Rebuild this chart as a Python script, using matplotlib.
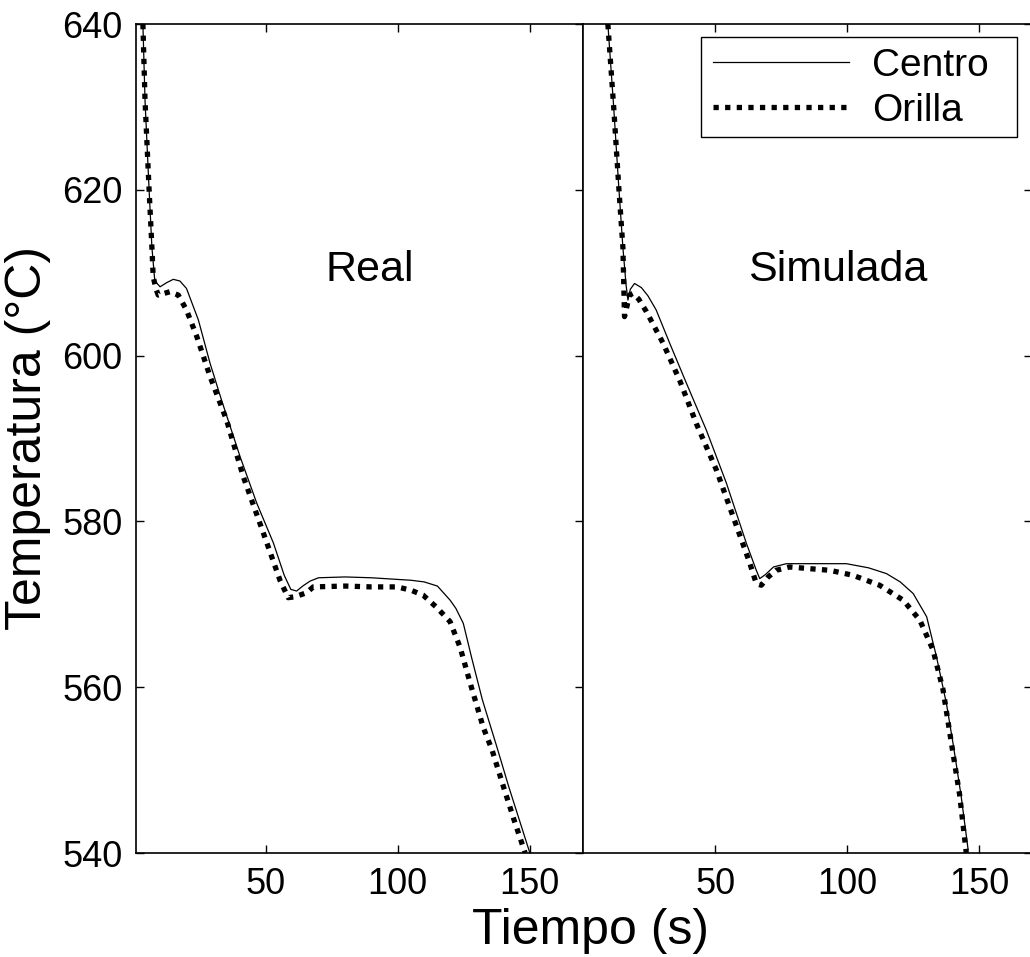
import numpy as np
import matplotlib.pyplot as plt
from matplotlib.patches import Rectangle

plt.rcParams['font.family'] = ['Liberation Sans', 'DejaVu Sans']

# Real (measured) cooling curves
real_centro_t = [3.5, 4.3, 5.8, 6.9, 8.0, 10, 12.5, 15, 17.5, 20, 24.5, 28.9, 33.3, 40.3, 46.6,
                 52.9, 57, 59.5, 61.7, 64, 66.8, 70, 80, 90, 100, 105, 110, 115, 119.8, 122,
                 124.8, 128, 132, 137.5, 142, 146, 150]
real_centro_T = [640, 630.8, 620.3, 613.1, 609, 608.3, 608.8, 609.2, 609.0, 608.1, 604.3, 599.1,
                 594.6, 587.8, 582.2, 577.4, 573.5, 571.8, 571.6, 572.2, 572.8, 573.2, 573.3,
                 573.2, 573.0, 572.9, 572.7, 572.2, 570.5, 569.5, 567.7, 563.5, 558.5, 552.8,
                 548, 544, 540]
real_orilla_t = [3.5, 4.3, 5.8, 6.9, 7.4, 8.5, 9.3, 11.5, 13.7, 16.9, 20, 23.9, 28.9, 35.2, 41.5,
                 49.1, 55.4, 58.5, 61, 65.5, 68, 80, 90, 99.7, 105, 109.6, 114.8, 119.8, 123.6,
                 127.4, 132.3, 135.7, 140, 144, 148.2]
real_orilla_T = [640, 630.8, 620.3, 613.1, 609.5, 608, 607.3, 607.5, 607.7, 607.3, 605.5, 602.3,
                 597.5, 592.2, 585.4, 578.6, 572.9, 570.8, 570.9, 571.4, 572.1, 572.2, 572.1,
                 572.1, 571.7, 571.1, 569.6, 567.9, 564.8, 560.5, 555.2, 552.4, 548, 544, 540]

# Simulated cooling curves
sim_centro_t = [9.3, 11.5, 13.5, 15.0, 16.2, 16.9, 17.8, 19.4, 22, 24.5, 27.6, 32.7, 39, 46.6,
                54.2, 61.7, 65.5, 66.8, 69, 72, 76.9, 90, 99.6, 108, 114.8, 120, 124.9, 130,
                133.7, 137.5, 140, 143, 145.7]
sim_centro_T = [640, 630, 620, 613, 608.5, 606.7, 608, 608.7, 608.2, 607.2, 605.5, 601.5, 596.7,
                591, 584.6, 577.4, 574.1, 573.1, 573.6, 574.5, 574.9, 574.9, 574.9, 574.4, 573.7,
                572.7, 571.3, 568.5, 563.7, 558, 553.2, 547, 540.4]
sim_orilla_t = [9.3, 11.5, 13.5, 15.0, 15.6, 16.2, 17.5, 18.8, 21, 23.9, 30.2, 36.5, 42.8, 50.4,
                56.7, 63, 65.5, 67.4, 70, 73, 78.1, 93.3, 102.1, 112.2, 121.1, 127.4, 132.4,
                136.2, 139.4, 142.5, 145]
sim_orilla_T = [640, 630, 620, 613, 604.7, 605.5, 607.3, 607.5, 606.8, 605.3, 601.5, 597, 591.8,
                586.2, 580.6, 575, 572.5, 572.3, 573.3, 574.1, 574.5, 574.1, 573.5, 572.3, 570.5,
                568.1, 564.5, 559.7, 553.2, 547, 540]

panel_titles = ["Real", "Simulada"]
xticks = [50, 100, 150]
yticks = [540, 560, 580, 600, 620, 640]

W, H = 1030, 957
fig = plt.figure(figsize=(W / 100, H / 100), dpi=100)
ax1 = fig.add_axes([136.3 / W, 1 - 853 / H, 446.4 / W, 829 / H])
ax2 = fig.add_axes([583.3 / W, 1 - 853 / H, 449.0 / W, 829 / H])

dotted = (0, (1, 1.2))
for ax, (tc, Tc, to, To), title, xlim, tx in zip(
        [ax1, ax2],
        [(real_centro_t, real_centro_T, real_orilla_t, real_orilla_T),
         (sim_centro_t, sim_centro_T, sim_orilla_t, sim_orilla_T)],
        panel_titles, [(1, 170), (0, 170)], [89.5, 96.3]):
    ax.plot(tc, Tc, color="black", lw=0.9, label="Centro", zorder=3)
    ax.plot(to, To, color="black", lw=3.8, ls=dotted, label="Orilla", zorder=2)
    ax.set_xlim(*xlim)
    ax.set_ylim(540, 640)
    ax.set_xticks(xticks)
    ax.set_yticks(yticks)
    ax.tick_params(direction="in", length=6, width=1, top=True, right=True,
                   labelsize=26, pad=10)
    ax.text(tx, 610.3, title, fontsize=31, ha="center", va="center")
    for s in ax.spines.values():
        s.set_linewidth(1.2)

ax2.tick_params(left=False, labelleft=False)
ax1.set_ylabel("Temperatura (°C)", fontsize=36, labelpad=8)
fig.text(590 / W, 1 - 931 / H, "Tiempo (s)", fontsize=36, ha="center", va="center")

# legend entries without their own frame; the box is drawn separately
leg = ax2.legend(loc="upper left", bbox_to_anchor=(713 / W, 1 - 48 / H),
                 bbox_transform=fig.transFigure, fontsize=28, frameon=False,
                 handlelength=3.5, handletextpad=0.6, labelspacing=0.22,
                 borderpad=0.0, borderaxespad=0)
fig.patches.append(Rectangle((701 / W, 1 - 137 / H), 316 / W, 100 / H,
                             transform=fig.transFigure, fill=False,
                             edgecolor="black", lw=1.0))

fig.savefig("out.png", dpi=100)
